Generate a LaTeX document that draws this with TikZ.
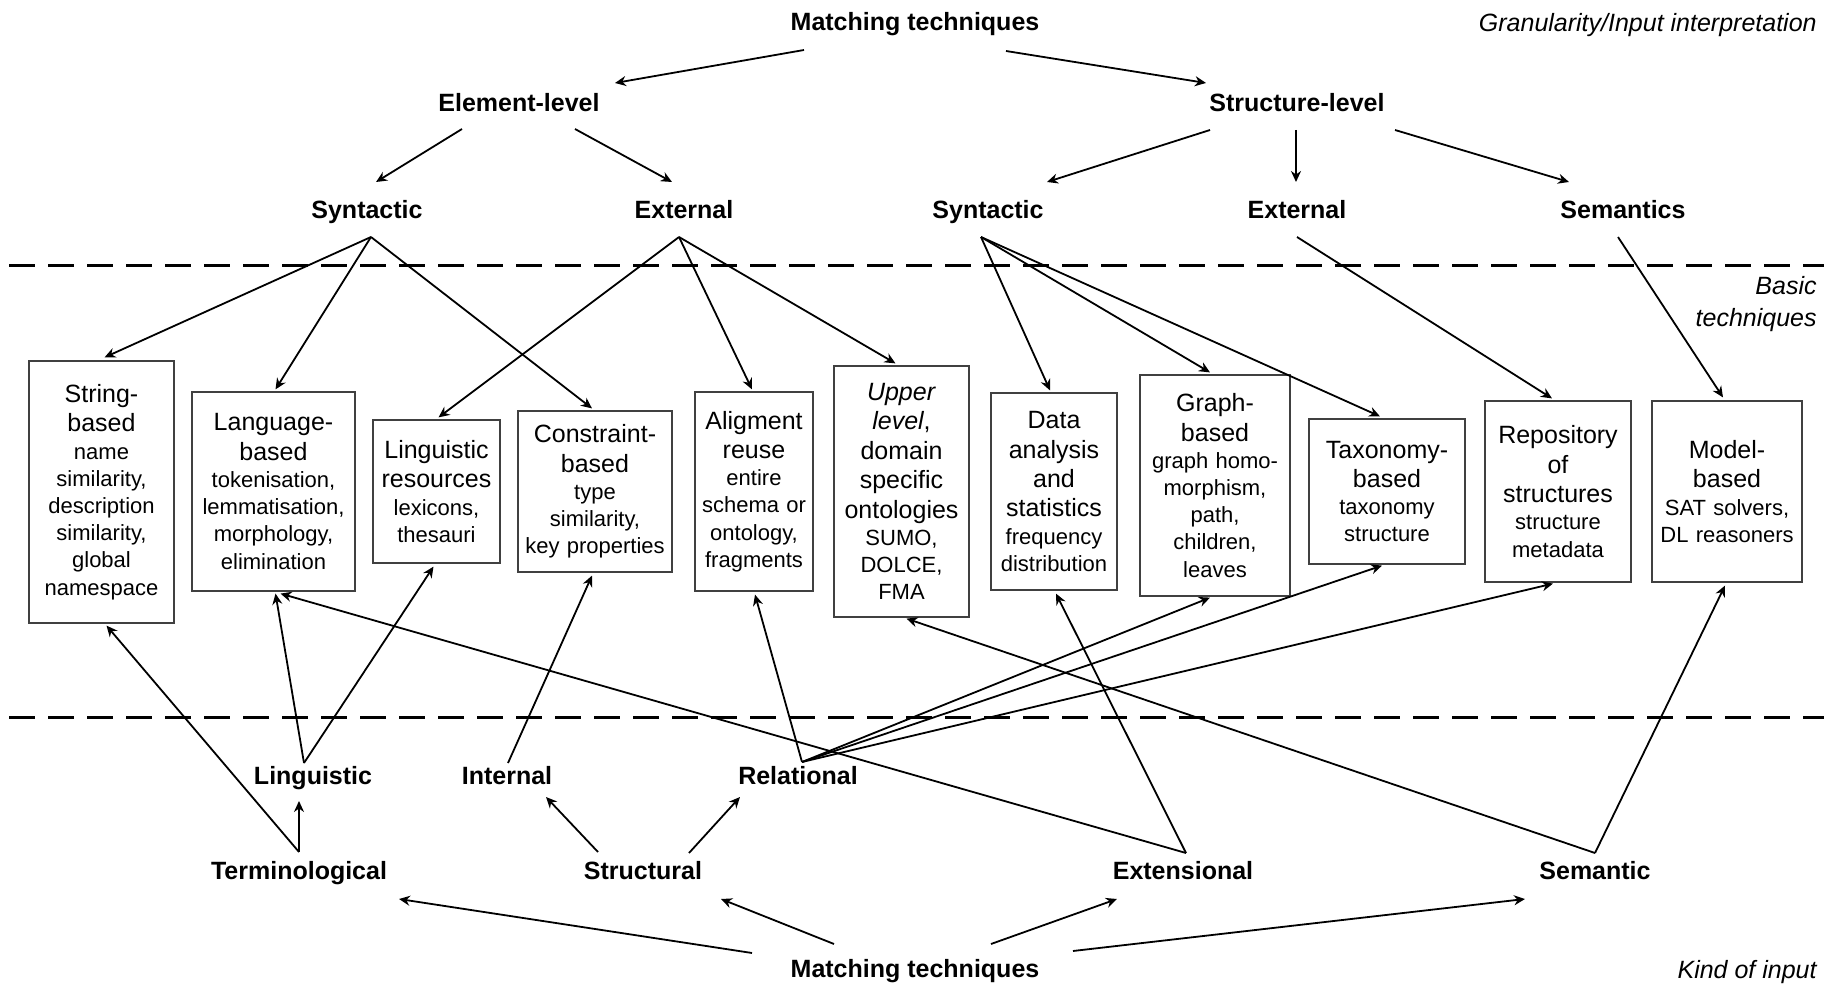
\documentclass[tikz,border=0pt]{standalone}
\usepackage{fontspec}
\setmainfont{Liberation Sans}
\usetikzlibrary{arrows.meta,calc}
\newcommand\ttlf{\fontsize{12.5}{14.7}\selectfont}
\newcommand\smlf{\fontsize{11}{13.6}\selectfont}
\begin{document}
\begin{tikzpicture}[x=0.5pt,y=-0.5pt,
 lab/.style={font=\fontsize{12.5}{15}\selectfont\bfseries, inner sep=0pt, text height=12.3pt, text depth=2.6pt},
 note/.style={font=\fontsize{12.5}{16}\selectfont\itshape, inner sep=0pt, anchor=east, align=right},
 tbox/.style={draw=black!75, line width=0.6pt, inner xsep=1pt, inner ysep=0pt, align=center, font=\smlf},
 arr/.style={line width=0.9pt, -{Stealth[length=5.5pt,width=5pt]}},
 sepline/.style={line width=1.5pt, dash pattern=on 13pt off 6.5pt}]

\useasboundingbox (0,0) rectangle (1833,984);

% separators
\draw[sepline] (9,266) -- (1824,266);
\draw[sepline] (9,717) -- (1824,717);

% side notes
\node[note] (n1) at (1817,25) {Granularity/Input interpretation};
\node[note] (n2) at (1817,304) {Basic\\techniques};
\node[note] (n3) at (1817,972) {Kind of input};

% top labels
\node[lab] (mt1) at (915,21) {Matching techniques};
\node[lab] (el) at (519,102) {Element-level};
\node[lab] (sl) at (1297,102) {Structure-level};
\node[lab] (syn1) at (367,209) {Syntactic};
\node[lab] (ext1) at (684,209) {External};
\node[lab] (syn2) at (988,209) {Syntactic};
\node[lab] (ext2) at (1297,209) {External};
\node[lab] (sem) at (1623,209) {Semantics};

% bottom labels
\node[lab] (ling) at (313,775) {Linguistic};
\node[lab] (int) at (507,775) {Internal};
\node[lab] (rel) at (798,775) {Relational};
\node[lab] (term) at (299,870) {Terminological};
\node[lab] (strc) at (643,870) {Structural};
\node[lab] (extn) at (1183,870) {Extensional};
\node[lab] (semn) at (1595,870) {Semantic};
\node[lab] (mt2) at (915,968) {Matching techniques};

% boxes
\node[tbox, text width=70.5pt, minimum height=131pt] (b1) at (101.5,492)
 {{\ttlf String-\\based\par}name\\similarity,\\description\\similarity,\\global\\namespace};
\node[tbox, text width=79.5pt, minimum height=99.5pt] (b2) at (273.5,491.5)
 {{\ttlf Language-\\based\par}tokenisation,\\lemmatisation,\\morphology,\\elimination};
\node[tbox, text width=61.5pt, minimum height=71.5pt] (b3) at (436.5,491.5)
 {{\ttlf Linguistic\\resources\par}lexicons,\\thesauri};
\node[tbox, text width=75pt, minimum height=80.5pt] (b4) at (595,491.5)
 {{\ttlf Constraint-\\based\par}type\\similarity,\\key properties};
\node[tbox, text width=57pt, minimum height=99.5pt] (b5) at (754,491.5)
 {{\ttlf Aligment\\reuse\par}entire\\schema or\\ontology,\\fragments};
\node[tbox, text width=65.5pt, minimum height=125.5pt] (b6) at (901.5,491.5)
 {{\ttlf \textit{Upper}\\\textit{level},\\domain\\specific\\ontologies\par}SUMO,\\DOLCE,\\FMA};
\node[tbox, text width=61pt, minimum height=98.5pt] (b7) at (1054,491.5)
 {{\ttlf Data\\analysis\\and\\statistics\par}frequency\\distribution};
\node[tbox, text width=73pt, minimum height=110.5pt] (b8) at (1215,485.5)
 {{\ttlf Graph-\\based\par}graph homo-\\morphism,\\path,\\children,\\leaves};
\node[tbox, text width=76pt, minimum height=72.5pt] (b9) at (1387,491.5)
 {{\ttlf Taxonomy-\\based\par}taxonomy\\structure};
\node[tbox, text width=71pt, minimum height=90.5pt] (b10) at (1558,491.5)
 {{\ttlf Repository\\of\\structures\par}structure\\metadata};
\node[tbox, text width=73pt, minimum height=90.5pt] (b11) at (1727,491.5)
 {{\ttlf Model-\\based\par}SAT solvers,\\DL reasoners};

% top hierarchy
\draw[arr] ($(mt1)+(-111,29)$) -- ($(el)+(96,-19)$);
\draw[arr] ($(mt1)+(91,30)$) -- ($(sl)+(-91,-19)$);
\draw[arr] ($(el)+(-57,27)$) -- ($(syn1)+(9,-27)$);
\draw[arr] ($(el)+(56,27)$) -- ($(ext1)+(-12,-27)$);
\draw[arr] ($(sl)+(-87,28)$) -- ($(syn2)+(59,-27)$);
\draw[arr] ($(sl)+(-1,28)$) -- ($(ext2)+(-1,-27)$);
\draw[arr] ($(sl)+(98,28)$) -- ($(sem)+(-54,-27)$);

% top labels to boxes
\draw[arr] ($(syn1)+(4,28)$) -- ($(b1.north)+(3,-3)$);
\draw[arr] ($(syn1)+(4,28)$) -- ($(b2.north)+(2,-2)$);
\draw[arr] ($(syn1)+(4,28)$) -- ($(b4.north)+(-3,-2)$);
\draw[arr] ($(ext1)+(-5,28)$) -- ($(b3.north)+(2,-2)$);
\draw[arr] ($(ext1)+(-5,28)$) -- ($(b5.north)+(-2,-2)$);
\draw[arr] ($(ext1)+(-5,28)$) -- ($(b6.north)+(-6,-2)$);
\draw[arr] ($(syn2)+(-7,28)$) -- ($(b7.north)+(-4,-2)$);
\draw[arr] ($(syn2)+(-7,28)$) -- ($(b8.north)+(-5,-2)$);
\draw[arr] ($(syn2)+(-7,28)$) -- ($(b9.north)+(-7,-2)$);
\draw[arr] ($(ext2)+(0,28)$) -- ($(b10.north)+(-6,-2)$);
\draw[arr] ($(sem)+(-5,28)$) -- ($(b11.north)+(-4,-3)$);

% bottom labels to boxes
\draw[arr] ($(ling)+(-9,-12)$) -- ($(b2.south)+(2,2)$);
\draw[arr] ($(ling)+(-9,-12)$) -- ($(b3.south)+(-3,3)$);
\draw[arr] ($(term)+(0,-18)$) -- ($(b1.south)+(5,2)$);
\draw[arr] ($(term)+(0,-18)$) -- ($(ling)+(-14,26)$);
\draw[arr] ($(int)+(1,-12)$) -- ($(b4.south)+(-3,3)$);
\draw[arr] ($(rel)+(4,-13)$) -- ($(b5.south)+(1,3)$);
\draw[arr] ($(rel)+(4,-13)$) -- ($(b8.south)+(-5,1)$);
\draw[arr] ($(rel)+(4,-13)$) -- ($(b9.south)+(-5,1)$);
\draw[arr] ($(rel)+(4,-13)$) -- ($(b10.south)+(-5,1)$);
\draw[arr] ($(strc)+(-45,-18)$) -- ($(int)+(39,22)$);
\draw[arr] ($(strc)+(46,-17)$) -- ($(rel)+(-58,22)$);
\draw[arr] ($(extn)+(3,-17)$) -- ($(b2.south)+(7,2)$);
\draw[arr] ($(extn)+(3,-17)$) -- ($(b7.south)+(2,3)$);
\draw[arr] ($(semn)+(0,-17)$) -- ($(b6.south)+(5,1)$);
\draw[arr] ($(semn)+(0,-17)$) -- ($(b11.south)+(-2,3)$);

% bottom hierarchy
\draw[arr] ($(mt2)+(-163,-15)$) -- ($(term)+(100,29)$);
\draw[arr] ($(mt2)+(-81,-24)$) -- ($(strc)+(78,29)$);
\draw[arr] ($(mt2)+(76,-24)$) -- ($(extn)+(-66,29)$);
\draw[arr] ($(mt2)+(158,-17)$) -- ($(semn)+(-70,29)$);
\end{tikzpicture}
\end{document}
